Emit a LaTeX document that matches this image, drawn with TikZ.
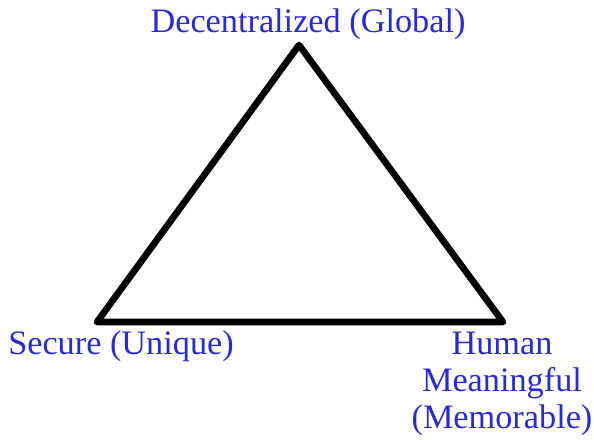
\documentclass[tikz,border=0pt]{standalone}
\usepackage{fontspec}
\setmainfont{Liberation Serif}
\definecolor{labelblue}{RGB}{40,40,220}
\tikzset{
  label text/.style={text=labelblue, font=\fontsize{25.7}{27.4}\selectfont, inner sep=0pt, align=center},
  edge line/.style={black, line width=5pt, line join=round}
}
\begin{document}
\begin{tikzpicture}[x=0.75pt, y=-0.75pt]
\useasboundingbox (0,0) rectangle (594,440);
% Corners of the triangle
\coordinate (top) at (299,45);
\coordinate (left) at (97,322);
\coordinate (right) at (503,322);
% Triangle
\draw[edge line] (top) -- (left) -- (right) -- cycle;
% Labels at the corners
\node[label text, anchor=base] (global) at (308,32) {Decentralized (Global)};
\node[label text, anchor=base west] (unique) at (8,354) {Secure (Unique)};
\node[label text, anchor=base] (memorable) at (502,428) {Human\\Meaningful\\(Memorable)};
\end{tikzpicture}
\end{document}
